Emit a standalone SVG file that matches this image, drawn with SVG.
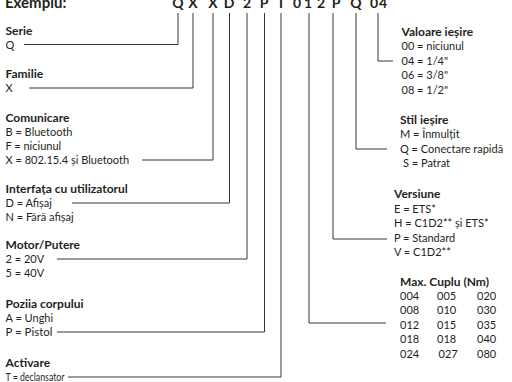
<svg xmlns="http://www.w3.org/2000/svg" width="512" height="382" viewBox="0 0 512 382">
<style>
text{font-family:"Lato","Liberation Sans",sans-serif;font-size:11px;fill:#231f20}
.b{font-weight:bold;font-size:12px}
.h{font-weight:bold;font-size:15px}
.c{font-weight:bold;font-size:14px;text-anchor:middle}
.ln{fill:none;stroke:#231f20;stroke-width:0.9}
</style>
<rect width="512" height="382" fill="#fff"/>
<g id="header">
<text class="h" x="5" y="8">Exemplu:</text>
<text class="c" x="178" y="8">Q</text>
<text class="c" x="193" y="8">X</text>
<text class="c" x="213" y="8">X</text>
<text class="c" x="229" y="8">D</text>
<text class="c" x="247" y="8">2</text>
<text class="c" x="264" y="8">P</text>
<text class="c" x="281" y="8">T</text>
<text class="c" x="297" y="8">0</text>
<text class="c" x="308" y="8">1</text>
<text class="c" x="321" y="8">2</text>
<text class="c" x="336" y="8">P</text>
<text class="c" x="356" y="8">Q</text>
<text class="c" x="374" y="8">0</text>
<text class="c" x="383" y="8">4</text>
</g>
<g id="serie">
<text class="b" x="5.5" y="34.5">Serie</text>
<text x="5.5" y="48.5">Q</text>
</g>
<g id="familie">
<text class="b" x="5.5" y="78">Familie</text>
<text x="5.5" y="92">X</text>
</g>
<g id="comunicare">
<text class="b" x="5.5" y="122">Comunicare</text>
<text x="5.5" y="136">B = Bluetooth</text>
<text x="5.5" y="150">F = niciunul</text>
<text x="5.5" y="164">X = 802.15.4 și Bluetooth</text>
</g>
<g id="interfata">
<text class="b" x="5.5" y="193">Interfața cu utilizatorul</text>
<text x="5.5" y="207">D = Afișaj</text>
<text x="5.5" y="221">N = Fără afișaj</text>
</g>
<g id="motor">
<text class="b" x="5.5" y="249">Motor/Putere</text>
<text x="5.5" y="263">2 = 20V</text>
<text x="5.5" y="277">5 = 40V</text>
</g>
<g id="pozitia">
<text class="b" x="5.5" y="308">Poziia corpului</text>
<text x="5.5" y="322">A = Unghi</text>
<text x="5.5" y="336" textLength="47" lengthAdjust="spacingAndGlyphs">P = Pistol</text>
</g>
<g id="activare">
<text class="b" x="5.5" y="367">Activare</text>
<text x="5.5" y="381" textLength="59" lengthAdjust="spacingAndGlyphs">T = declansator</text>
</g>
<g id="valoare">
<text class="b" x="401.5" y="35.5">Valoare ieșire</text>
<text x="401.5" y="50">00 = niciunul</text>
<text x="401.5" y="64.5">04 = 1/4"</text>
<text x="401.5" y="79">06 = 3/8"</text>
<text x="401.5" y="93.5">08 = 1/2"</text>
</g>
<g id="stil">
<text class="b" x="400" y="123.5">Stil ieșire</text>
<text x="400" y="138">M = Înmulțit</text>
<text x="400" y="152.5">Q = Conectare rapidă</text>
<text x="403" y="167">S = Patrat</text>
</g>
<g id="versiune">
<text class="b" x="394" y="198">Versiune</text>
<text x="394" y="212.5">E = ETS*</text>
<text x="394" y="227">H = C1D2** și ETS*</text>
<text x="394" y="241.5">P = Standard</text>
<text x="394" y="256">V = C1D2**</text>
</g>
<g id="cuplu">
<text class="b" x="400" y="285.5">Max. Cuplu (Nm)</text>
<text x="400" y="299.5">004</text><text x="437" y="299.5">005</text><text x="477" y="299.5">020</text>
<text x="400" y="314">008</text><text x="437" y="314">010</text><text x="477" y="314">030</text>
<text x="400" y="328.5">012</text><text x="437" y="328.5">015</text><text x="477" y="328.5">035</text>
<text x="400" y="343">018</text><text x="437" y="343">018</text><text x="477" y="343">040</text>
<text x="400" y="357.5">024</text><text x="438.5" y="357.5">027</text><text x="477" y="357.5">080</text>
</g>
<g id="connectors" class="ln">
<polyline points="178,13 178,44.5 24,44.5"/>
<polyline points="193,13 193,88 29,88"/>
<polyline points="213,13 213,160 142,160"/>
<polyline points="229.5,13 229.5,203 72,203"/>
<polyline points="247,13 247,259 57,259"/>
<polyline points="264.5,13 264.5,332 57,332"/>
<polyline points="281,13 281,377 68,377"/>
<polyline points="309,13 309,323 386,323"/>
<polyline points="333,13 333,239 387,239"/>
<polyline points="356,13 356,149 387,149"/>
<polyline points="378,13 378,61 393,61"/>
</g>
</svg>
